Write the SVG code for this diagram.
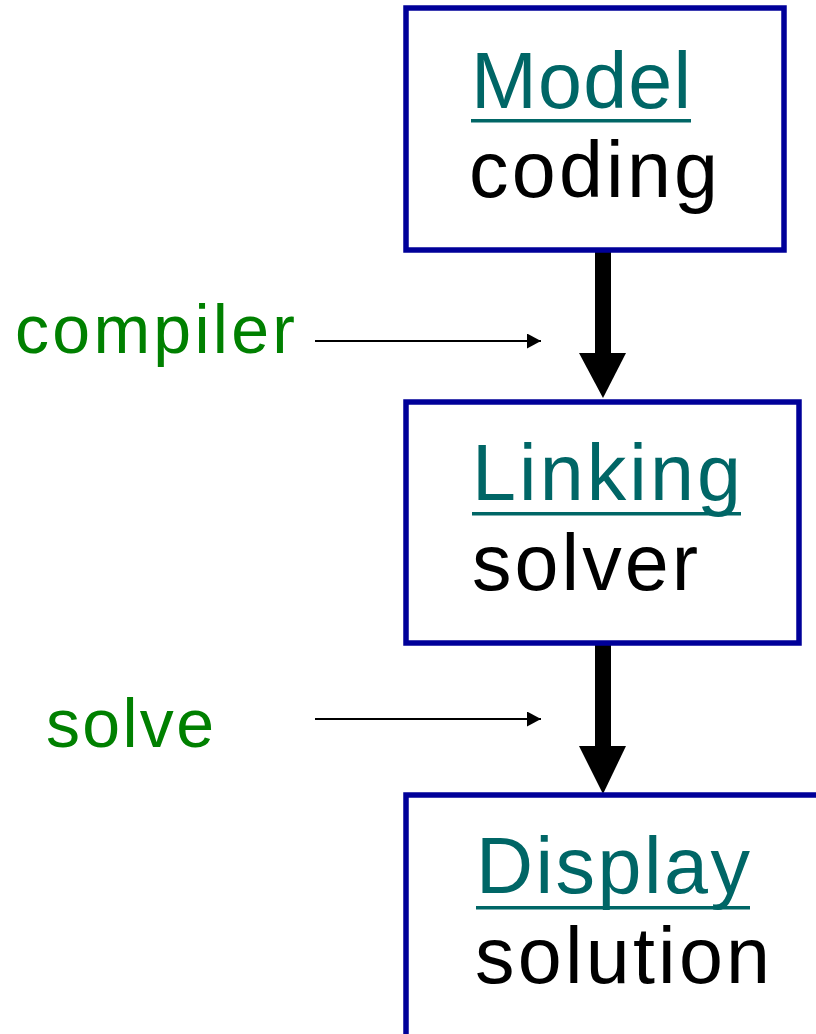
<svg xmlns="http://www.w3.org/2000/svg" width="816" height="1034" viewBox="0 0 816 1034">
<style>
.box{fill:#ffffff;stroke:#000099;stroke-width:5.5}
.t{font-family:"Liberation Sans",Arial,sans-serif;font-size:79px}
.head{fill:#006666}
.sub{fill:#000000}
.lbl{font-family:"Liberation Sans",Arial,sans-serif;font-size:68px;fill:#008000}
.ul{fill:#006666}
.thin{stroke:#000;stroke-width:2;fill:none}
</style>
<defs>
<marker id="ah" markerWidth="14" markerHeight="15" refX="14" refY="7.5" orient="auto" markerUnits="userSpaceOnUse">
<path d="M0,0 L14,7.5 L0,15 Z" fill="#000"/>
</marker>
</defs>
<rect width="816" height="1034" fill="#ffffff"/>
<g id="connectors">
<rect x="595" y="250" width="16" height="105" fill="#000"/>
<path d="M579,353 L626,353 L603,398 Z" fill="#000"/>
<rect x="595" y="643" width="16" height="105" fill="#000"/>
<path d="M579,746 L626,746 L603,794 Z" fill="#000"/>
<line class="thin" x1="315" y1="341" x2="541" y2="341" marker-end="url(#ah)"/>
<line class="thin" x1="315" y1="719" x2="541" y2="719" marker-end="url(#ah)"/>
</g>
<g id="node-model">
<rect class="box" x="406" y="8" width="378" height="242"/>
<text class="t head" x="471" y="108" textLength="220" lengthAdjust="spacing">Model</text>
<rect class="ul" x="471" y="119" width="220" height="3.5"/>
<text class="t sub" x="469" y="197" textLength="249" lengthAdjust="spacing">coding</text>
</g>
<g id="node-linking">
<rect class="box" x="406" y="402" width="393" height="241"/>
<text class="t head" x="472" y="500" textLength="269" lengthAdjust="spacing">Linking</text>
<rect class="ul" x="472" y="512" width="269" height="3.5"/>
<text class="t sub" x="472" y="590" textLength="226" lengthAdjust="spacing">solver</text>
</g>
<g id="node-display">
<rect class="box" x="406" y="795" width="430" height="270"/>
<text class="t head" x="476" y="893" textLength="274" lengthAdjust="spacing">Display</text>
<rect class="ul" x="476" y="906" width="274" height="3.5"/>
<text class="t sub" x="475" y="983" textLength="295" lengthAdjust="spacing">solution</text>
</g>
<g id="label-compiler">
<text class="lbl" x="15" y="353" textLength="280" lengthAdjust="spacing">compiler</text>
</g>
<g id="label-solve">
<text class="lbl" x="46" y="747" textLength="168" lengthAdjust="spacing">solve</text>
</g>
</svg>
